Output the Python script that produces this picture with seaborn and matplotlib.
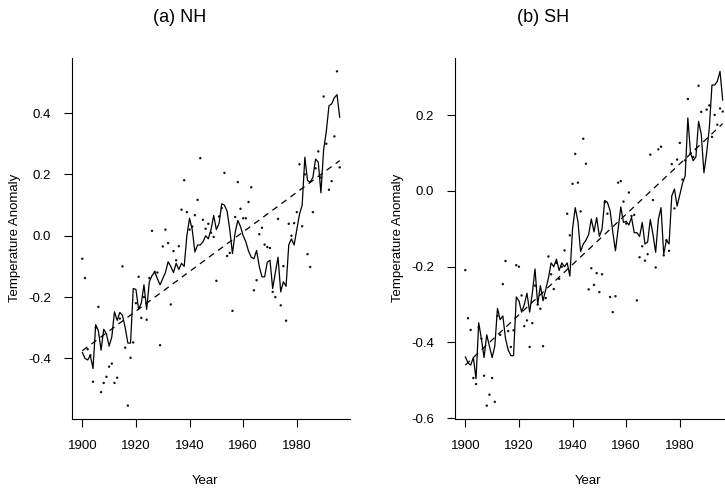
import numpy as np
import pandas as pd
import matplotlib
matplotlib.use("Agg")
import matplotlib.pyplot as plt
import seaborn as sns

years = list(range(1900, 1997))

nh_obs = [-0.075, -0.138, -0.37, -0.39, -0.476, -0.30, -0.232, -0.51, -0.48, -0.46,
          -0.427, -0.417, -0.48, -0.463, -0.27, -0.10, -0.365, -0.554, -0.398, -0.348,
          -0.22, -0.134, -0.268, -0.20, -0.274, -0.138, 0.016, -0.118, -0.12, -0.357,
          -0.035, 0.02, -0.024, -0.224, -0.05, -0.08, -0.034, 0.085, 0.181, 0.077,
          0.02, 0.03, 0.067, 0.117, 0.253, 0.052, 0.023, 0.039, 0.01, -0.004,
          -0.147, 0.063, 0.09, 0.205, -0.066, -0.056, -0.245, 0.061, 0.175, 0.088,
          0.057, 0.057, 0.11, 0.158, -0.178, -0.145, 0.005, 0.026, -0.029, -0.037,
          -0.04, -0.183, -0.2, 0.055, -0.227, -0.099, -0.277, 0.039, 0.0, 0.041,
          0.077, 0.233, 0.031, 0.2, -0.06, -0.102, 0.077, 0.22, 0.275, 0.19,
          0.454, 0.3, 0.15, 0.178, 0.324, 0.536, 0.223]

nh_fit = [-0.38, -0.40, -0.405, -0.39, -0.433, -0.29, -0.31, -0.373, -0.305, -0.32,
          -0.36, -0.33, -0.248, -0.276, -0.25, -0.26, -0.30, -0.35, -0.35, -0.172,
          -0.175, -0.24, -0.22, -0.16, -0.24, -0.15, -0.13, -0.118, -0.14, -0.16,
          -0.14, -0.12, -0.085, -0.10, -0.12, -0.09, -0.11, -0.09, -0.10, 0.0,
          0.057, 0.02, -0.053, -0.03, -0.03, -0.02, 0.0, -0.01, 0.02, 0.066,
          0.02, 0.04, 0.104, 0.10, 0.08, 0.02, -0.058, 0.01, 0.05, 0.03,
          0.0, -0.02, -0.05, -0.07, -0.075, -0.048, -0.10, -0.134, -0.134, -0.086,
          -0.08, -0.172, -0.12, -0.07, -0.183, -0.15, -0.165, -0.03, -0.01, -0.03,
          0.02, 0.07, 0.10, 0.256, 0.18, 0.175, 0.19, 0.25, 0.24, 0.14,
          0.28, 0.34, 0.424, 0.43, 0.45, 0.46, 0.386]

sh_obs = [-0.209, -0.336, -0.367, -0.494, -0.51, -0.36, -0.39, -0.488, -0.567, -0.538,
          -0.494, -0.557, -0.33, -0.38, -0.246, -0.185, -0.37, -0.412, -0.368, -0.196,
          -0.20, -0.276, -0.357, -0.342, -0.412, -0.349, -0.25, -0.30, -0.311, -0.41,
          -0.283, -0.173, -0.22, -0.259, -0.19, -0.232, -0.20, -0.157, -0.06, -0.117,
          0.019, 0.098, 0.022, -0.054, 0.138, 0.072, -0.26, -0.204, -0.248, -0.217,
          -0.267, -0.22, -0.03, -0.06, -0.28, -0.32, -0.278, 0.022, 0.026, -0.028,
          -0.086, -0.004, -0.066, -0.063, -0.289, -0.175, -0.146, -0.184, -0.167, 0.096,
          -0.024, -0.202, 0.11, 0.117, -0.17, -0.13, -0.158, 0.071, -0.046, 0.083,
          0.127, 0.03, 0.081, 0.243, 0.10, 0.09, 0.11, 0.278, 0.209, 0.06,
          0.215, 0.226, 0.143, 0.201, 0.175, 0.218, 0.21]

sh_fit = [-0.438, -0.454, -0.46, -0.44, -0.496, -0.348, -0.39, -0.44, -0.38, -0.41,
          -0.44, -0.41, -0.31, -0.34, -0.33, -0.39, -0.42, -0.435, -0.435, -0.28,
          -0.29, -0.32, -0.30, -0.27, -0.32, -0.27, -0.206, -0.30, -0.25, -0.29,
          -0.26, -0.23, -0.19, -0.20, -0.18, -0.21, -0.19, -0.20, -0.19, -0.225,
          -0.10, -0.044, -0.08, -0.16, -0.14, -0.13, -0.115, -0.074, -0.108, -0.07,
          -0.12, -0.10, -0.025, -0.03, -0.052, -0.108, -0.158, -0.10, -0.042, -0.083,
          -0.08, -0.09, -0.07, -0.11, -0.11, -0.12, -0.083, -0.14, -0.135, -0.075,
          -0.115, -0.162, -0.075, -0.044, -0.167, -0.13, -0.14, -0.013, 0.005, -0.04,
          -0.01, 0.02, 0.04, 0.193, 0.10, 0.08, 0.09, 0.184, 0.15, 0.048,
          0.10, 0.166, 0.28, 0.28, 0.29, 0.316, 0.24]

# linear trend lines (end points)
trend_years = [1900, 1996]
nh_trend = [-0.375, 0.245]
sh_trend = [-0.46, 0.178]

nh_yticks = [-0.4, -0.2, 0.0, 0.2, 0.4]
sh_yticks = [-0.6, -0.4, -0.2, 0.0, 0.2]
xticks = [1900, 1920, 1940, 1960, 1980]

sns.set_style("ticks")
plt.rcParams["font.family"] = ["Liberation Sans", "DejaVu Sans"]
plt.rcParams["axes.unicode_minus"] = False
plt.rcParams["text.color"] = "black"
plt.rcParams["xtick.color"] = "black"
plt.rcParams["ytick.color"] = "black"

W, H = 725, 490
fig = plt.figure(figsize=(W / 100, H / 100), dpi=100)


def px_axes(x0, x1, ytop, ybot):
    return fig.add_axes([x0 / W, 1 - ybot / H, (x1 - x0) / W, (ybot - ytop) / H])


panels = [
    dict(obs=nh_obs, fit=nh_fit, trend=nh_trend, yticks=nh_yticks, title="(a) NH",
         box=(72, 350, 58, 419), tcx=180, ylx=15, xlx=205),
    dict(obs=sh_obs, fit=sh_fit, trend=sh_trend, yticks=sh_yticks, title="(b) SH",
         box=(455, 733, 58, 419), tcx=543, ylx=398, xlx=588),
]

for p in panels:
    df = pd.DataFrame({"Year": years, "obs": p["obs"], "fit": p["fit"]})
    tdf = pd.DataFrame({"Year": trend_years, "trend": p["trend"]})
    ax = px_axes(*p["box"])
    sns.scatterplot(data=df, x="Year", y="obs", ax=ax, s=3, color="#111111",
                    edgecolor="none", marker="o", zorder=2)
    sns.lineplot(data=df, x="Year", y="fit", ax=ax, color="black", lw=0.9, zorder=3)
    sns.lineplot(data=tdf, x="Year", y="trend", ax=ax, color="black", lw=0.9,
                 linestyle=(0, (5, 4)), zorder=3)
    lo = min(min(p["obs"]), min(p["fit"]))
    hi = max(max(p["obs"]), max(p["fit"]))
    pad = (hi - lo) * 0.04
    ax.set_ylim(lo - pad, hi + pad)
    ax.set_xlim(1900 - 96 * 0.04, 1996 + 96 * 0.04)
    ax.set_yticks(p["yticks"])
    ax.set_yticklabels([f"{v:.1f}" for v in p["yticks"]])
    ax.set_xticks(xticks)
    ax.set_xticklabels([str(v) for v in xticks])
    ax.tick_params(direction="out", length=6, width=0.8, colors="black",
                   labelsize=9.5, pad=9)
    for s in ["top", "right"]:
        ax.spines[s].set_visible(False)
    for s in ["left", "bottom"]:
        ax.spines[s].set_color("black")
        ax.spines[s].set_linewidth(0.8)
    ax.set_xlabel("")
    ax.set_ylabel("")
    fig.text(p["tcx"] / W, 1 - 18 / H, p["title"], ha="center", va="center", fontsize=13)
    fig.text(p["xlx"] / W, 1 - 481 / H, "Year", ha="center", va="center", fontsize=9.5)
    fig.text(p["ylx"] / W, 1 - 238 / H, "Temperature Anomaly", ha="center",
             va="center", rotation=90, fontsize=9.5)

fig.savefig("out.png", dpi=100)
